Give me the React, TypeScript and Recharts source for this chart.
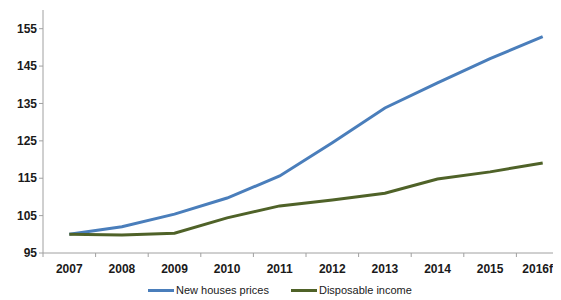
import React from "react";
import { LineChart, Line, XAxis, YAxis, Legend } from "recharts";

const years = ["2007", "2008", "2009", "2010", "2011", "2012", "2013", "2014", "2015", "2016f"];
const newHousesPrices = [100, 102, 105.4, 109.7, 115.6, 124.5, 133.8, 140.5, 147, 152.9];
const disposableIncome = [100, 99.8, 100.3, 104.4, 107.6, 109.2, 111, 114.8, 116.7, 119.1];
const yTicks = [95, 105, 115, 125, 135, 145, 155];

const data = years.map((year, i) => ({
  year,
  prices: newHousesPrices[i],
  income: disposableIncome[i],
}));

const FONT = "'Liberation Sans', Arial, sans-serif";
const BLUE = "#4a7ebb";
const GREEN = "#4f6228";
const AXIS = "#a0a0a0";
const HALF_BAND = 26.3;
const LABEL_RIGHT_LIMIT = 545;

const XTick = (props: any) => {
  const { x, y, payload, index } = props;
  const isLast = index === years.length - 1;
  return (
    <g>
      <line x1={x - HALF_BAND} y1={y - 6} x2={x - HALF_BAND} y2={y - 2} stroke={AXIS} strokeWidth={1} />
      <text
        x={isLast ? LABEL_RIGHT_LIMIT : x}
        y={y}
        dy={13.5}
        textAnchor={isLast ? "end" : "middle"}
        fontFamily={FONT}
        fontSize={12}
        fontWeight="bold"
        fill="#1a1a1a"
      >
        {payload.value}
      </text>
    </g>
  );
};

const LegendContent = () => (
  <div style={{ display: "flex", alignItems: "center", fontFamily: FONT, fontSize: 11, color: "#1a1a1a", whiteSpace: "nowrap" }}>
    <span style={{ display: "inline-block", width: 26, height: 3, background: BLUE, marginRight: 2 }} />
    <span>New houses prices</span>
    <span style={{ display: "inline-block", width: 26, height: 3, background: GREEN, marginLeft: 22, marginRight: 2 }} />
    <span>Disposable income</span>
  </div>
);

export default function App() {
  return (
    <LineChart
      width={553}
      height={292}
      data={data}
      margin={{ top: 2, right: -8, left: 0, bottom: 0 }}
    >
      <XAxis
        dataKey="year"
        stroke={AXIS}
        tickLine={false}
        tickSize={4}
        tickMargin={2}
        height={47}
        tick={<XTick />}
        interval={0}
        padding={{ left: HALF_BAND, right: HALF_BAND }}
      />
      <YAxis
        domain={[95, 160]}
        ticks={yTicks}
        stroke={AXIS}
        tickSize={4}
        tickMargin={2}
        width={35}
        tick={{ fontFamily: FONT, fontSize: 12, fontWeight: "bold", fill: "#1a1a1a" }}
      />
      <Legend
        layout="horizontal"
        verticalAlign="middle"
        align="center"
        content={<LegendContent />}
        wrapperStyle={{ top: 276, left: 140, width: "auto" }}
      />
      <Line
        type="linear"
        dataKey="prices"
        name="New houses prices"
        stroke={BLUE}
        strokeWidth={3}
        dot={false}
        isAnimationActive={false}
      />
      <Line
        type="linear"
        dataKey="income"
        name="Disposable income"
        stroke={GREEN}
        strokeWidth={3}
        dot={false}
        isAnimationActive={false}
      />
    </LineChart>
  );
}
